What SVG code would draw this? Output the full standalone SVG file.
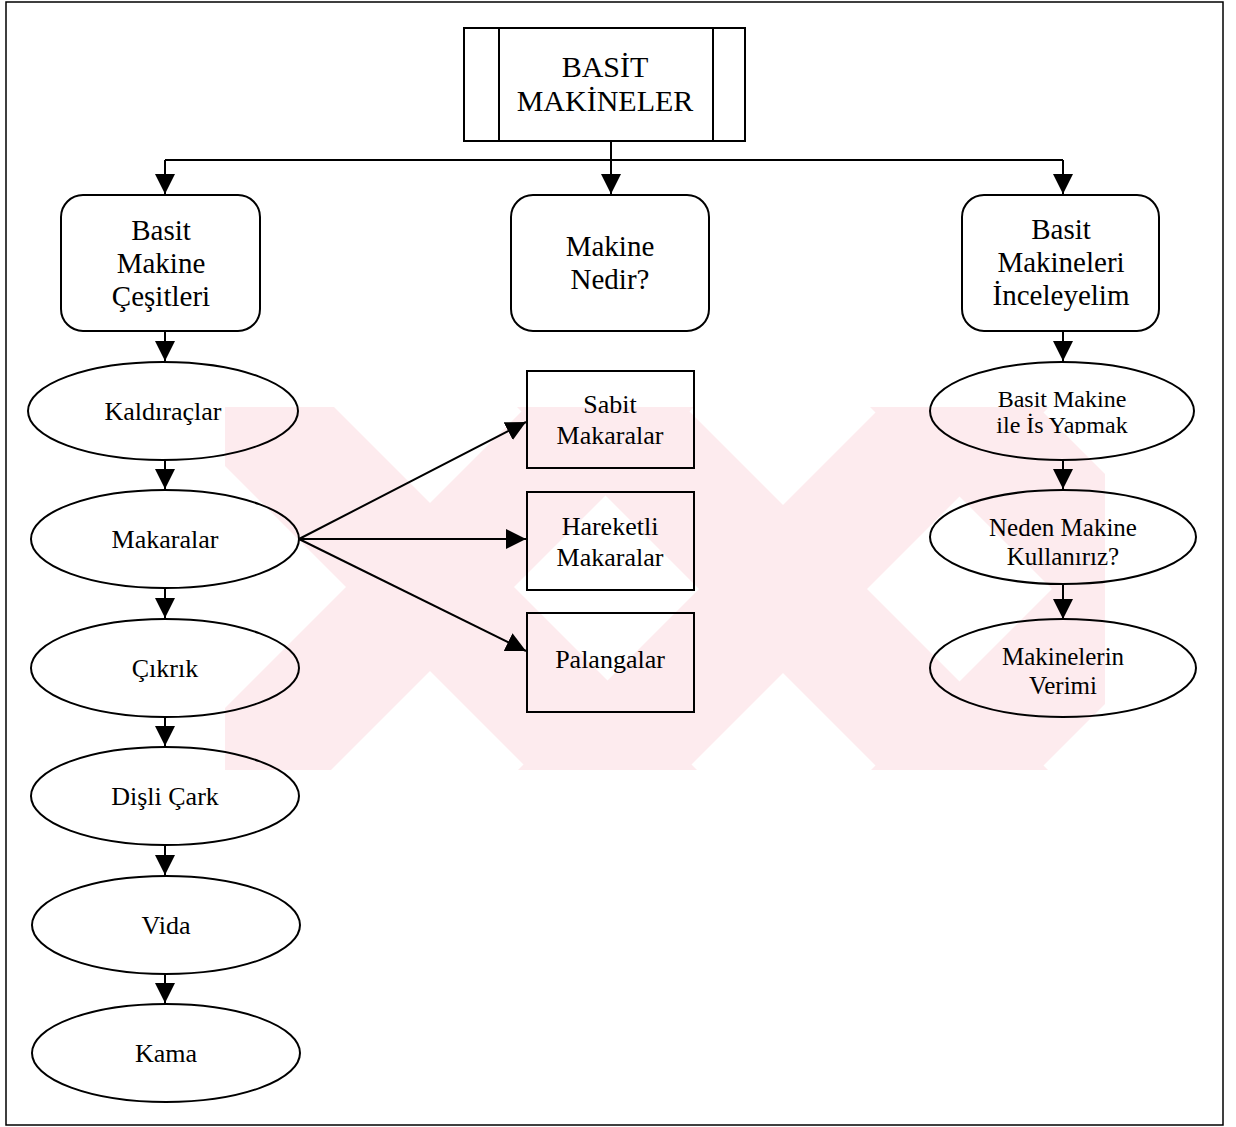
<svg xmlns="http://www.w3.org/2000/svg" width="1236" height="1127" viewBox="0 0 1236 1127">
<style>
.s{fill:none;stroke:#000;stroke-width:2}
.n{fill:none;stroke:#000;stroke-width:2}
.t{font-family:"Liberation Serif","Times New Roman",serif;fill:#000;text-anchor:middle}
.b{font-size:29px}
.e{font-size:26px}
.r{font-size:25px}
.wm{fill:#fdebee}
</style>
<defs>
<marker id="ah" viewBox="0 0 20 20" refX="20" refY="10" markerWidth="20" markerHeight="20" markerUnits="userSpaceOnUse" orient="auto"><path d="M0,0 L20,10 L0,20 z" fill="#000"/></marker>
<clipPath id="c1"><rect x="930" y="360" width="266" height="74"/></clipPath>
<clipPath id="cw"><rect x="225" y="407" width="880" height="363"/></clipPath>
</defs>
<rect x="0" y="0" width="1236" height="1127" fill="#fff"/>
<g id="watermark" clip-path="url(#cw)" class="wm">
<polygon points="166,407 334,407 697,770 529,770"/>
<polygon points="526,407 694,407 331,770 163,770"/>
<polygon points="517,407 685,407 1048,770 880,770"/>
<polygon points="881,407 1049,407 686,770 518,770"/>
<polygon points="870,407 1038,407 1401,770 1233,770"/>
<polygon points="1234,407 1402,407 1039,770 871,770"/>
</g>
<rect x="6" y="2" width="1217" height="1123" fill="none" stroke="#000" stroke-width="1.5"/>
<g id="connectors" class="s">
<path d="M611,141 V194" marker-end="url(#ah)"/>
<path d="M165,160 H1063"/>
<path d="M165,160 V194" marker-end="url(#ah)"/>
<path d="M1063,160 V194" marker-end="url(#ah)"/>
<path d="M165,331 V361" marker-end="url(#ah)"/>
<path d="M165,460 V489" marker-end="url(#ah)"/>
<path d="M165,588 V618" marker-end="url(#ah)"/>
<path d="M165,717 V746" marker-end="url(#ah)"/>
<path d="M165,845 V875" marker-end="url(#ah)"/>
<path d="M165,974 V1003" marker-end="url(#ah)"/>
<path d="M299,539 L526,422" marker-end="url(#ah)"/>
<path d="M299,539 H526" marker-end="url(#ah)"/>
<path d="M299,539 L526,651" marker-end="url(#ah)"/>
<path d="M1063,331 V361" marker-end="url(#ah)"/>
<path d="M1063,460 V489" marker-end="url(#ah)"/>
<path d="M1063,584 V619" marker-end="url(#ah)"/>
</g>
<g id="n-basit-makineler">
<rect class="n" x="464" y="28" width="281" height="113"/>
<line class="n" x1="499" y1="28" x2="499" y2="141"/>
<line class="n" x1="713" y1="28" x2="713" y2="141"/>
<text class="t" x="605" y="77" font-size="30">BASİT</text>
<text class="t" x="605" y="111" font-size="30">MAKİNELER</text>
</g>
<g id="n-cesitleri">
<rect class="n" x="61" y="195" width="199" height="136" rx="22"/>
<text class="t b" x="161" y="240">Basit</text>
<text class="t b" x="161" y="273">Makine</text>
<text class="t b" x="161" y="306">Çeşitleri</text>
</g>
<g id="n-nedir">
<rect class="n" x="511" y="195" width="198" height="136" rx="22"/>
<text class="t b" x="610" y="256">Makine</text>
<text class="t b" x="610" y="289">Nedir?</text>
</g>
<g id="n-inceleyelim">
<rect class="n" x="962" y="195" width="197" height="136" rx="22"/>
<text class="t b" x="1061" y="239">Basit</text>
<text class="t b" x="1061" y="272">Makineleri</text>
<text class="t b" x="1061" y="305">İnceleyelim</text>
</g>
<g id="n-kaldiraclar"><ellipse class="n" cx="163" cy="411" rx="135" ry="49"/><text class="t e" x="163" y="420">Kaldıraçlar</text></g>
<g id="n-makaralar"><ellipse class="n" cx="165" cy="539" rx="134" ry="49"/><text class="t e" x="165" y="548">Makaralar</text></g>
<g id="n-cikrik"><ellipse class="n" cx="165" cy="668" rx="134" ry="49"/><text class="t e" x="165" y="677">Çıkrık</text></g>
<g id="n-disli"><ellipse class="n" cx="165" cy="796" rx="134" ry="49"/><text class="t e" x="165" y="805">Dişli Çark</text></g>
<g id="n-vida"><ellipse class="n" cx="166" cy="925" rx="134" ry="49"/><text class="t e" x="166" y="934">Vida</text></g>
<g id="n-kama"><ellipse class="n" cx="166" cy="1053" rx="134" ry="49"/><text class="t e" x="166" y="1062">Kama</text></g>
<g id="n-sabit"><rect class="n" x="527" y="371" width="167" height="97"/><text class="t e" x="610" y="413">Sabit</text><text class="t e" x="610" y="444">Makaralar</text></g>
<g id="n-hareketli"><rect class="n" x="527" y="492" width="167" height="98"/><text class="t e" x="610" y="535">Hareketli</text><text class="t e" x="610" y="566">Makaralar</text></g>
<g id="n-palangalar"><rect class="n" x="527" y="613" width="167" height="99"/><text class="t e" x="610" y="668">Palangalar</text></g>
<g id="n-is-yapmak"><ellipse class="n" cx="1062" cy="411" rx="132" ry="49"/>
<g clip-path="url(#c1)"><text class="t" font-size="24" x="1062" y="407">Basit Makine</text><text class="t" font-size="24" x="1062" y="433">ile İs Yapmak</text></g></g>
<g id="n-neden"><ellipse class="n" cx="1063" cy="537" rx="133" ry="47"/><text class="t r" x="1063" y="536">Neden Makine</text><text class="t r" x="1063" y="565">Kullanırız?</text></g>
<g id="n-verim"><ellipse class="n" cx="1063" cy="668" rx="133" ry="49"/><text class="t r" x="1063" y="665">Makinelerin</text><text class="t r" x="1063" y="694">Verimi</text></g>
</svg>
